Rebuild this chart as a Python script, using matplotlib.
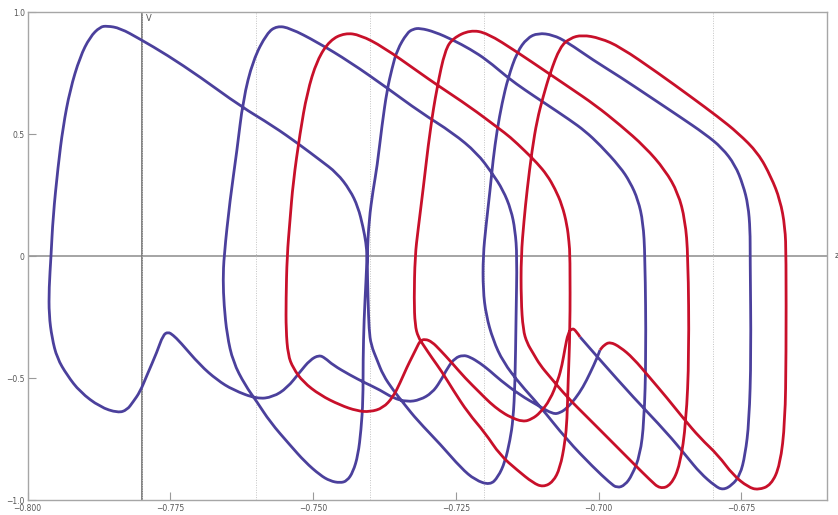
import numpy as np
import matplotlib.pyplot as plt
from matplotlib.path import Path
from matplotlib.patches import PathPatch

# closed orbit in the (z, V) plane in time order
# blue part: return wiggles, then spikes 1, 2, 4, 6
b_tail = [(-0.69974, -0.385), (-0.70026, -0.418), (-0.70149, -0.480), (-0.70271, -0.537),
          (-0.70412, -0.586), (-0.70552, -0.623), (-0.70674, -0.643), (-0.70797, -0.648),
          (-0.71042, -0.615), (-0.71375, -0.570), (-0.71725, -0.508), (-0.71900, -0.471),
          (-0.72075, -0.439), (-0.72250, -0.414), (-0.72373, -0.406), (-0.72513, -0.418),
          (-0.72636, -0.455), (-0.72776, -0.516), (-0.72916, -0.561), (-0.73126, -0.590),
          (-0.73354, -0.598), (-0.73599, -0.582), (-0.73827, -0.549), (-0.74089, -0.520),
          (-0.74352, -0.488), (-0.74650, -0.447), (-0.74790, -0.418), (-0.74895, -0.406),
          (-0.75053, -0.426), (-0.75228, -0.475), (-0.75455, -0.541), (-0.75701, -0.578),
          (-0.75981, -0.586), (-0.76401, -0.549), (-0.76681, -0.508), (-0.76979, -0.447),
          (-0.77329, -0.352), (-0.77452, -0.324), (-0.77539, -0.311), (-0.77627, -0.324),
          (-0.77732, -0.393), (-0.77907, -0.488), (-0.78030, -0.557), (-0.78152, -0.598),
          (-0.78257, -0.631), (-0.78415, -0.643), (-0.78730, -0.619), (-0.79081, -0.557),
          (-0.79308, -0.488), (-0.79483, -0.418), (-0.79571, -0.336), (-0.79623, -0.242),
          (-0.79623, -0.131), (-0.79588, 0.0)]

b_spike1 = [(-0.79553, 0.160), (-0.79466, 0.365), (-0.79378, 0.529), (-0.79256, 0.680),
            (-0.79081, 0.816), (-0.78905, 0.898), (-0.78730, 0.939), (-0.78608, 0.943),
            (-0.78380, 0.934), (-0.78030, 0.889), (-0.77557, 0.824), (-0.76979, 0.734),
            (-0.76278, 0.615), (-0.75701, 0.533), (-0.75228, 0.455), (-0.74877, 0.393),
            (-0.74580, 0.340), (-0.74352, 0.270), (-0.74212, 0.201), (-0.74124, 0.119),
            (-0.74072, 0.053), (-0.74054, 0.0), (-0.74072, -0.098), (-0.74107, -0.262),
            (-0.74124, -0.426), (-0.74124, -0.590), (-0.74159, -0.713), (-0.74212, -0.816),
            (-0.74299, -0.885), (-0.74405, -0.922), (-0.74527, -0.930), (-0.74702, -0.922),
            (-0.74877, -0.898), (-0.75140, -0.844), (-0.75403, -0.775), (-0.75753, -0.680),
            (-0.75981, -0.598), (-0.76191, -0.529), (-0.76401, -0.434), (-0.76506, -0.324),
            (-0.76559, -0.201), (-0.76576, -0.098), (-0.76559, 0.0)]

b_spike2 = [(-0.76454, 0.230), (-0.76331, 0.434), (-0.76226, 0.639), (-0.76051, 0.803),
            (-0.75806, 0.914), (-0.75631, 0.943), (-0.75403, 0.934), (-0.74930, 0.877),
            (-0.74352, 0.795), (-0.73704, 0.689), (-0.73126, 0.590), (-0.72548, 0.504),
            (-0.72128, 0.422), (-0.71865, 0.340), (-0.71672, 0.270), (-0.71532, 0.189),
            (-0.71462, 0.107), (-0.71427, 0.0), (-0.71445, -0.250), (-0.71462, -0.520),
            (-0.71497, -0.672), (-0.71550, -0.754), (-0.71638, -0.844), (-0.71760, -0.906),
            (-0.71900, -0.939), (-0.72163, -0.918), (-0.72408, -0.869), (-0.72758, -0.775),
            (-0.73179, -0.672), (-0.73389, -0.611), (-0.73599, -0.549), (-0.73774, -0.488),
            (-0.73879, -0.426), (-0.73984, -0.365), (-0.74019, -0.303), (-0.74037, -0.180),
            (-0.74054, 0.0)]

b_spike4 = [(-0.74019, 0.148), (-0.73949, 0.270), (-0.73879, 0.365), (-0.73792, 0.537),
            (-0.73704, 0.680), (-0.73616, 0.770), (-0.73529, 0.844), (-0.73354, 0.914),
            (-0.73249, 0.930), (-0.73126, 0.934), (-0.72863, 0.918), (-0.72548, 0.885),
            (-0.72250, 0.848), (-0.71952, 0.803), (-0.71585, 0.730), (-0.71287, 0.680),
            (-0.70972, 0.631), (-0.70499, 0.557), (-0.70236, 0.512), (-0.69974, 0.455),
            (-0.69623, 0.365), (-0.69448, 0.303), (-0.69308, 0.230), (-0.69221, 0.139),
            (-0.69186, 0.0), (-0.69168, -0.406), (-0.69203, -0.680), (-0.69273, -0.816),
            (-0.69413, -0.898), (-0.69536, -0.939), (-0.69676, -0.951), (-0.69799, -0.930),
            (-0.70096, -0.865), (-0.70552, -0.754), (-0.71042, -0.611), (-0.71375, -0.525),
            (-0.71672, -0.434), (-0.71848, -0.344), (-0.71970, -0.242), (-0.72023, -0.139),
            (-0.72023, 0.0)]

b_spike6 = [(-0.71970, 0.127), (-0.71900, 0.270), (-0.71848, 0.393), (-0.71777, 0.516),
            (-0.71690, 0.627), (-0.71585, 0.730), (-0.71427, 0.836), (-0.71252, 0.893),
            (-0.71060, 0.914), (-0.70797, 0.906), (-0.70552, 0.877), (-0.70096, 0.803),
            (-0.69623, 0.734), (-0.69098, 0.652), (-0.68573, 0.570), (-0.68135, 0.500),
            (-0.67837, 0.443), (-0.67609, 0.373), (-0.67469, 0.291), (-0.67381, 0.209),
            (-0.67346, 0.107), (-0.67346, 0.0), (-0.67329, -0.406), (-0.67364, -0.680),
            (-0.67434, -0.816), (-0.67522, -0.898), (-0.67662, -0.939), (-0.67820, -0.959),
            (-0.67960, -0.943), (-0.68222, -0.889), (-0.68450, -0.824), (-0.68800, -0.725),
            (-0.69396, -0.578), (-0.69974, -0.426), (-0.70324, -0.332)]

# red part: wiggles, then spikes 3, 5, 7
r_tail = [(-0.70324, -0.332), (-0.70394, -0.307), (-0.70464, -0.295), (-0.70534, -0.316),
          (-0.70587, -0.377), (-0.70639, -0.447), (-0.70709, -0.508), (-0.70849, -0.590),
          (-0.71025, -0.643), (-0.71165, -0.668), (-0.71322, -0.680), (-0.71550, -0.660),
          (-0.71725, -0.635), (-0.71900, -0.602), (-0.72075, -0.561), (-0.72338, -0.500),
          (-0.72583, -0.434), (-0.72776, -0.385), (-0.72916, -0.352), (-0.73039, -0.340),
          (-0.73126, -0.348), (-0.73179, -0.373), (-0.73266, -0.414), (-0.73354, -0.455),
          (-0.73476, -0.520), (-0.73599, -0.578), (-0.73774, -0.623), (-0.74002, -0.639),
          (-0.74229, -0.635), (-0.74527, -0.611), (-0.74877, -0.570), (-0.75175, -0.516),
          (-0.75350, -0.459), (-0.75438, -0.406), (-0.75473, -0.303), (-0.75473, -0.180),
          (-0.75455, 0.0)]

r_spike3 = [(-0.75403, 0.148), (-0.75350, 0.299), (-0.75228, 0.504), (-0.75105, 0.668),
            (-0.74930, 0.803), (-0.74702, 0.885), (-0.74440, 0.914), (-0.74177, 0.906),
            (-0.73774, 0.857), (-0.73126, 0.750), (-0.72828, 0.701), (-0.72250, 0.611),
            (-0.71760, 0.525), (-0.71550, 0.488), (-0.71287, 0.430), (-0.71077, 0.381),
            (-0.70902, 0.332), (-0.70762, 0.275), (-0.70639, 0.209), (-0.70552, 0.127),
            (-0.70517, 0.057), (-0.70499, 0.0), (-0.70499, -0.303), (-0.70534, -0.520),
            (-0.70552, -0.672), (-0.70587, -0.762), (-0.70674, -0.869), (-0.70797, -0.926),
            (-0.70972, -0.947), (-0.71147, -0.930), (-0.71427, -0.877), (-0.71725, -0.816),
            (-0.71987, -0.725), (-0.72285, -0.643), (-0.72548, -0.549), (-0.72741, -0.475),
            (-0.72916, -0.418), (-0.73056, -0.369), (-0.73161, -0.332), (-0.73214, -0.283),
            (-0.73231, -0.180), (-0.73214, 0.0)]

r_spike5 = [(-0.73161, 0.107), (-0.73074, 0.270), (-0.72951, 0.516), (-0.72828, 0.693),
            (-0.72688, 0.844), (-0.72548, 0.893), (-0.72250, 0.926), (-0.71952, 0.914),
            (-0.71427, 0.836), (-0.70884, 0.750), (-0.70499, 0.689), (-0.70061, 0.619),
            (-0.69623, 0.537), (-0.69186, 0.447), (-0.68835, 0.352), (-0.68607, 0.258),
            (-0.68485, 0.148), (-0.68432, 0.0), (-0.68415, -0.406), (-0.68467, -0.680),
            (-0.68573, -0.857), (-0.68730, -0.939), (-0.68923, -0.955), (-0.69098, -0.918),
            (-0.69361, -0.857), (-0.69676, -0.783), (-0.69974, -0.713), (-0.70201, -0.660),
            (-0.70552, -0.578), (-0.70849, -0.496), (-0.71025, -0.447), (-0.71147, -0.398),
            (-0.71252, -0.357), (-0.71322, -0.303), (-0.71357, -0.180), (-0.71357, 0.0)]

r_spike7 = [(-0.71305, 0.148), (-0.71252, 0.270), (-0.71165, 0.434), (-0.71077, 0.557),
            (-0.70972, 0.652), (-0.70849, 0.750), (-0.70674, 0.857), (-0.70499, 0.893),
            (-0.70289, 0.906), (-0.69974, 0.893), (-0.69623, 0.857), (-0.68958, 0.750),
            (-0.68380, 0.652), (-0.67907, 0.570), (-0.67557, 0.504), (-0.67206, 0.422),
            (-0.66979, 0.324), (-0.66821, 0.230), (-0.66734, 0.119), (-0.66716, 0.0),
            (-0.66716, -0.406), (-0.66734, -0.680), (-0.66821, -0.857), (-0.66979, -0.939),
            (-0.67206, -0.959), (-0.67381, -0.947), (-0.67644, -0.898), (-0.67907, -0.816),
            (-0.68222, -0.746), (-0.68520, -0.664), (-0.68800, -0.582), (-0.69098, -0.500),
            (-0.69396, -0.418), (-0.69623, -0.373), (-0.69799, -0.352), (-0.69904, -0.365),
            (-0.69974, -0.385)]

x_ticks = [-0.800, -0.775, -0.750, -0.725, -0.700, -0.675]
x_labels = ['\u22120.800', '\u22120.775', '\u22120.750', '\u22120.725', '\u22120.700', '\u22120.675']
y_ticks = [-1.0, -0.5, 0.0, 0.5, 1.0]
y_labels = ['\u22121.0', '\u22120.5', '0', '0.5', '1.0']
grid_x = [-0.78, -0.76, -0.74, -0.72, -0.70, -0.68]
grid_y = [-0.5, 0.5]
v_axis_at = -0.78


def smooth(pts):
    # quadratic bezier through midpoints, the read points act as control points
    pts = np.asarray(pts)
    verts = [pts[0]]
    codes = [Path.MOVETO]
    for i in range(1, len(pts) - 1):
        verts += [pts[i], (pts[i] + pts[i + 1]) / 2]
        codes += [Path.CURVE3, Path.CURVE3]
    verts.append(pts[-1])
    codes.append(Path.LINETO)
    return Path(verts, codes)


blue = b_tail + b_spike1 + b_spike2 + b_spike4 + b_spike6
red = r_tail + r_spike3 + r_spike5 + r_spike7

fig = plt.figure(figsize=(8.38, 5.15), dpi=100)
ax = fig.add_axes([27.5/838, 15/515, 799.5/838, 488/515])
ax.set_xlim(-0.8, -0.66)
ax.set_ylim(-1, 1)

ax.set_xticks(x_ticks)
ax.set_xticklabels(x_labels)
ax.set_yticks(y_ticks)
ax.set_yticklabels(y_labels)
ax.set_xticks(grid_x, minor=True)
ax.set_yticks(grid_y, minor=True)
ax.tick_params(which='minor', length=0)
ax.tick_params(which='major', direction='in', length=5.5, width=0.8, color='#9a9a9a',
               labelsize=5.5, labelcolor='#555555')
ax.tick_params(axis='x', which='major', pad=3)
ax.tick_params(axis='y', which='major', pad=2)
ax.grid(which='minor', color='#c4c4c4', ls=(0, (1, 1.5)), lw=0.7)
for s in ax.spines.values():
    s.set_color('#a6a6a6')
    s.set_linewidth(1.0)

ax.axhline(0, color='#8c8c8c', lw=1.1, zorder=1.5)
ax.axvline(v_axis_at, color='#7a7a7a', lw=1.3, zorder=1.5)

ax.add_patch(PathPatch(smooth(blue), facecolor='none', edgecolor='#4b409c', lw=2.0,
                       joinstyle='round', zorder=3))
ax.add_patch(PathPatch(smooth(red), facecolor='none', edgecolor='#c8102a', lw=2.0,
                       joinstyle='round', zorder=3))

ax.text(-0.7793, 0.975, 'V', fontsize=6, color='#555555', ha='left', va='center')
ax.text(-0.6587, 0.0, 'z', fontsize=6, color='#555555', ha='left', va='center', clip_on=False)

fig.savefig('out.png', dpi=100)
